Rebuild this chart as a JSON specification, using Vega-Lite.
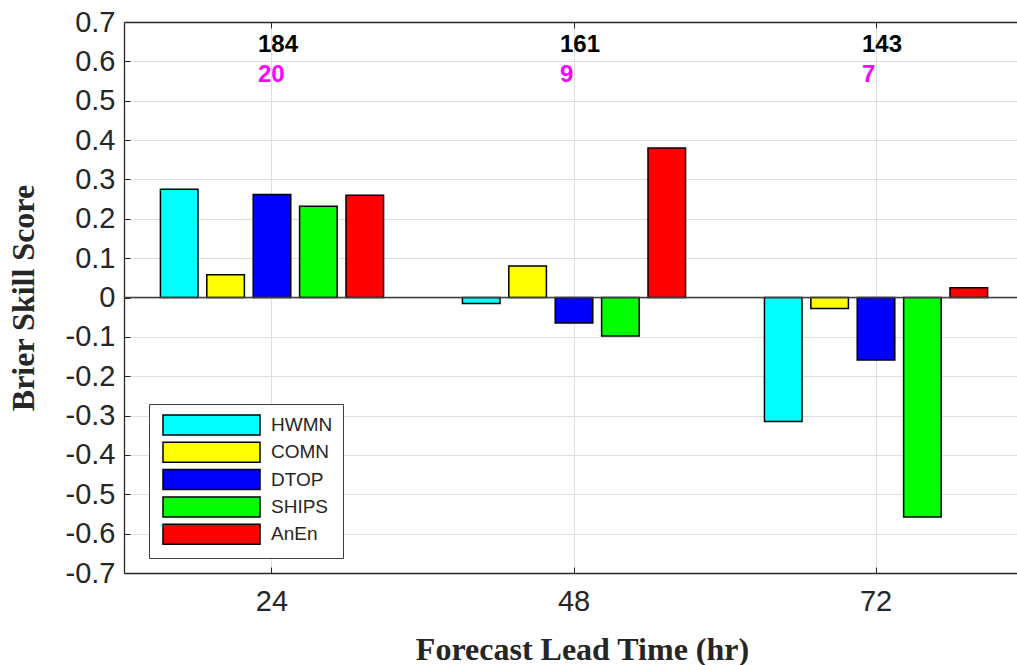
{
  "$schema": "https://vega.github.io/schema/vega-lite/v6.json",
  "width": 893,
  "height": 551,
  "autosize": {"type": "none"},
  "padding": {"left": 124, "top": 22, "right": 0, "bottom": 92},
  "background": "white",
  "config": {"view": {"stroke": null}, "font": "Liberation Sans"},
  "datasets": {
    "bss": [
      {"lead": 24, "model": "HWMN", "bss": 0.275},
      {"lead": 24, "model": "COMN", "bss": 0.058},
      {"lead": 24, "model": "DTOP", "bss": 0.262},
      {"lead": 24, "model": "SHIPS", "bss": 0.232},
      {"lead": 24, "model": "AnEn", "bss": 0.260},
      {"lead": 48, "model": "HWMN", "bss": -0.015},
      {"lead": 48, "model": "COMN", "bss": 0.080},
      {"lead": 48, "model": "DTOP", "bss": -0.065},
      {"lead": 48, "model": "SHIPS", "bss": -0.098},
      {"lead": 48, "model": "AnEn", "bss": 0.380},
      {"lead": 72, "model": "HWMN", "bss": -0.315},
      {"lead": 72, "model": "COMN", "bss": -0.028},
      {"lead": 72, "model": "DTOP", "bss": -0.159},
      {"lead": 72, "model": "SHIPS", "bss": -0.558},
      {"lead": 72, "model": "AnEn", "bss": 0.025}
    ],
    "counts": [
      {"lead": 24, "n_all": "184", "n_sub": "20"},
      {"lead": 48, "n_all": "161", "n_sub": "9"},
      {"lead": 72, "n_all": "143", "n_sub": "7"}
    ]
  },
  "resolve": {"axis": {"x": "independent"}},
  "layer": [
    {
      "data": {"name": "bss"},
      "mark": {"type": "bar", "stroke": "black", "strokeWidth": 1.5},
      "encoding": {
        "x": {
          "field": "lead", "type": "ordinal",
          "scale": {"domain": [24, 48, 72], "range": [0, 900], "paddingInner": 0.232, "paddingOuter": 0.106},
          "axis": {
            "orient": "bottom", "title": "Forecast Lead Time (hr)",
            "titleFont": "Liberation Serif", "titleFontSize": 32, "titleFontWeight": "bold", "titleColor": "#262626",
            "titleX": 458, "titleY": 86, "titleBaseline": "alphabetic", "titleAlign": "center",
            "labelFont": "Liberation Sans", "labelFontSize": 29, "labelColor": "#262626", "labelAngle": 0, "labelPadding": 20,
            "tickSize": -6, "tickColor": "#262626", "tickWidth": 1,
            "domainColor": "#262626", "domainWidth": 1.3,
            "grid": true, "gridColor": "#dfdfdf", "gridWidth": 1, "bandPosition": 0.5
          }
        },
        "xOffset": {
          "field": "model", "type": "nominal", "sort": ["HWMN", "COMN", "DTOP", "SHIPS", "AnEn"],
          "scale": {"paddingInner": 0.19, "paddingOuter": 0.095}
        },
        "y": {
          "field": "bss", "type": "quantitative",
          "scale": {"domain": [-0.7, 0.7], "nice": false, "zero": false},
          "axis": {
            "title": "Brier Skill Score",
            "titleFont": "Liberation Serif", "titleFontSize": 32, "titleFontWeight": "bold", "titleColor": "#262626",
            "titleAngle": -90, "titleX": -91, "titleY": 275.5, "titleBaseline": "alphabetic", "titleAlign": "center",
            "values": [-0.7, -0.6, -0.5, -0.4, -0.3, -0.2, -0.1, 0, 0.1, 0.2, 0.3, 0.4, 0.5, 0.6, 0.7],
            "tickCount": 30,
            "labelExpr": "datum.value == 0 ? '0' : replace(format(datum.value, '.1f'), '−', '-')",
            "labelOverlap": false, "labelFlush": false,
            "labelFont": "Liberation Sans", "labelFontSize": 29, "labelColor": "#262626", "labelPadding": 15,
            "tickSize": -6, "tickColor": "#262626", "tickWidth": 1,
            "domainColor": "#262626", "domainWidth": 1.3,
            "grid": true, "gridColor": "#dfdfdf", "gridWidth": 1
          }
        },
        "fill": {
          "field": "model", "type": "nominal",
          "scale": {"domain": ["HWMN", "COMN", "DTOP", "SHIPS", "AnEn"], "range": ["#00ffff", "#ffff00", "#0000ff", "#00ff00", "#ff0000"]},
          "legend": {
            "orient": "none", "legendX": 25, "legendY": 382, "title": null,
            "symbolType": "M-0.7,-1H9V1H-0.7Z", "symbolSize": 400,
            "symbolStrokeColor": "black", "symbolStrokeWidth": 1.5, "symbolOpacity": 1,
            "labelOffset": 90, "labelFont": "Liberation Sans", "labelFontSize": 19, "labelColor": "#262626",
            "rowPadding": 1.3, "padding": 10, "strokeColor": "#404040", "fillColor": "white"
          }
        }
      }
    },
    {
      "data": {"values": [{}]},
      "mark": {"type": "rule", "color": "#404040", "strokeWidth": 1.5},
      "encoding": {"y": {"datum": 0, "type": "quantitative"}}
    },
    {
      "data": {"name": "counts"},
      "mark": {"type": "text", "align": "left", "dx": -14, "baseline": "alphabetic", "fontWeight": "bold", "fontSize": 24, "font": "Liberation Sans", "color": "black"},
      "encoding": {
        "x": {
          "field": "lead", "type": "ordinal",
          "axis": {"orient": "top", "labels": false, "title": null, "grid": false, "tickSize": -6, "tickColor": "#262626", "tickWidth": 1, "domainColor": "#262626", "domainWidth": 1.3, "bandPosition": 0.5}
        },
        "y": {"datum": 0.624, "type": "quantitative"},
        "text": {"field": "n_all"}
      }
    },
    {
      "data": {"name": "counts"},
      "mark": {"type": "text", "align": "left", "dx": -14, "baseline": "alphabetic", "fontWeight": "bold", "fontSize": 24, "font": "Liberation Sans", "color": "#ff00ff"},
      "encoding": {
        "x": {"field": "lead", "type": "ordinal", "axis": null},
        "y": {"datum": 0.548, "type": "quantitative"},
        "text": {"field": "n_sub"}
      }
    }
  ]
}
